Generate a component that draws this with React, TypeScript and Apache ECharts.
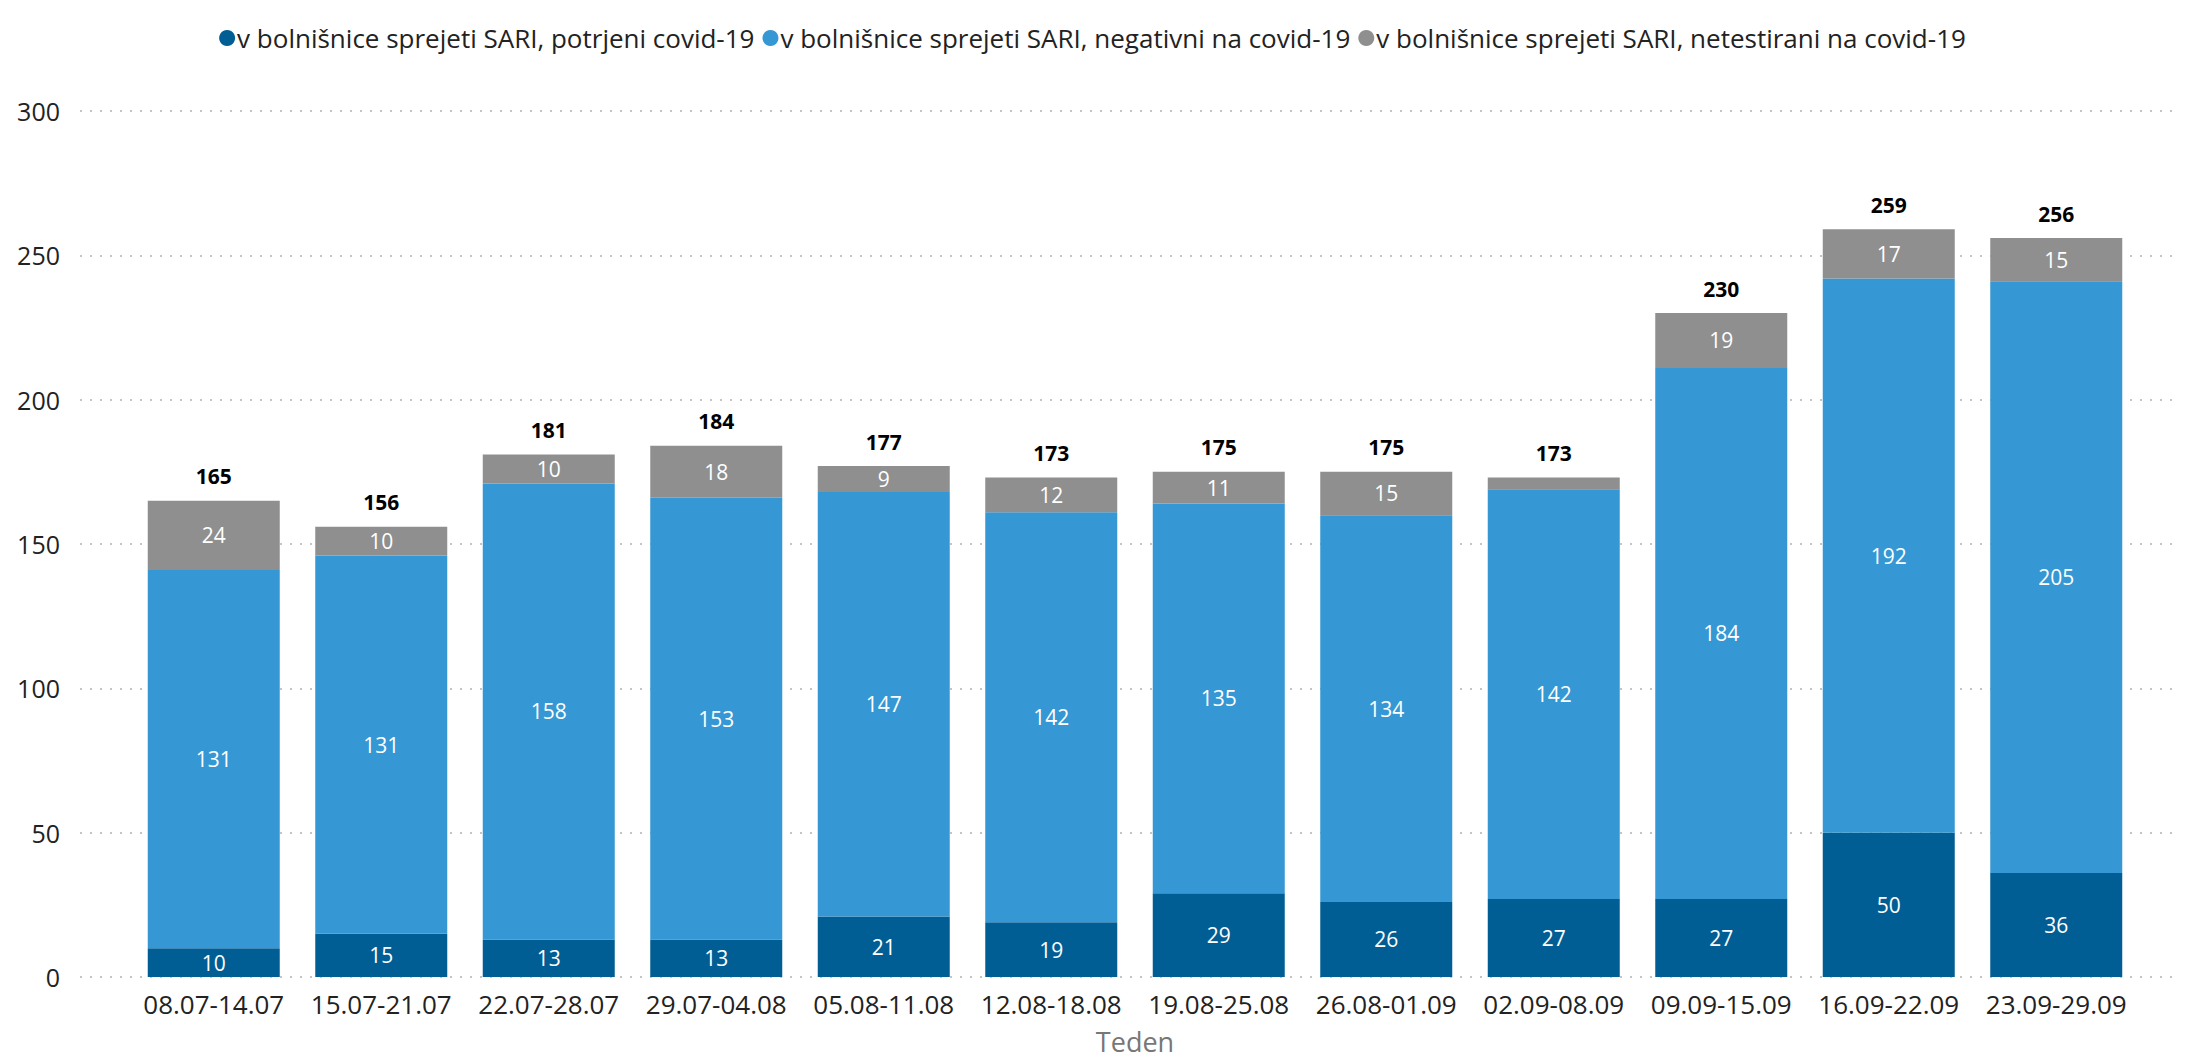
import React, { useEffect, useRef } from "react";
import * as echarts from "echarts";

const categories = [
  "08.07-14.07", "15.07-21.07", "22.07-28.07", "29.07-04.08", "05.08-11.08", "12.08-18.08",
  "19.08-25.08", "26.08-01.09", "02.09-08.09", "09.09-15.09", "16.09-22.09", "23.09-29.09",
];
const confirmed = [10, 15, 13, 13, 21, 19, 29, 26, 27, 27, 50, 36];
const negative = [131, 131, 158, 153, 147, 142, 135, 134, 142, 184, 192, 205];
const untested = [24, 10, 10, 18, 9, 12, 11, 15, 4, 19, 17, 15];
const totals = [165, 156, 181, 184, 177, 173, 175, 175, 173, 230, 259, 256];
const yTicks = { min: 0, max: 300, interval: 50 };
const seriesNames = [
  "v bolnišnice sprejeti SARI, potrjeni covid-19",
  "v bolnišnice sprejeti SARI, negativni na covid-19",
  "v bolnišnice sprejeti SARI, netestirani na covid-19",
];
const colors = ["#015e94", "#3597d3", "#8f8f8f"];

const FONT = "'Open Sans', 'Noto Sans', sans-serif";

export default function App() {
  const ref = useRef<HTMLDivElement>(null);
  useEffect(() => {
    document.body.style.margin = "0";
    document.body.style.overflow = "hidden";
    const chart = echarts.init(ref.current!, null, { renderer: "svg" });
    const insideLabel = {
      show: true,
      position: "inside",
      color: "#ffffff",
      fontSize: 21,
      fontFamily: FONT,
      formatter: (p: any) => (p.value < 5 ? "" : String(p.value)),
    };
    const stacked = [confirmed, negative, untested].map((d, i) => ({
      name: seriesNames[i],
      type: "bar",
      stack: "total",
      xAxisIndex: 0,
      yAxisIndex: 0,
      data: d,
      barWidth: 132,
      itemStyle: { color: colors[i] },
      label: insideLabel,
    }));
    chart.setOption({
      animation: false,
      backgroundColor: "#ffffff",
      textStyle: { fontFamily: FONT },
      legend: {
        data: seriesNames,
        top: 20,
        left: "center",
        icon: "circle",
        itemWidth: 16,
        itemHeight: 16,
        itemGap: 8,
        textStyle: { fontSize: 26, color: "#222222", fontFamily: FONT, padding: [0, 0, 0, -3] },
      },
      grid: [
        { left: 130, right: 45, top: 111, bottom: 84, outerBoundsMode: "none", containLabel: false },
        { left: 80, right: 5, top: 111, bottom: 84, outerBoundsMode: "none", containLabel: false },
      ],
      xAxis: [
        {
          type: "category",
          gridIndex: 0,
          data: categories,
          axisLine: { show: false },
          axisTick: { show: false },
          axisLabel: { fontSize: 26, color: "#222222", fontFamily: FONT, margin: 14, interval: 0 },
          name: "Teden",
          nameLocation: "middle",
          nameGap: 64,
          nameTextStyle: {
            fontSize: 27,
            lineHeight: 26,
            verticalAlign: "middle",
            color: "#777777",
            fontFamily: FONT,
          },
        },
        { type: "value", gridIndex: 1, show: false, min: 0, max: 1 },
      ],
      yAxis: [
        { type: "value", gridIndex: 0, show: false, ...yTicks },
        {
          type: "value",
          gridIndex: 1,
          ...yTicks,
          axisLine: { show: false },
          axisTick: { show: false },
          axisLabel: { fontSize: 25, color: "#222222", fontFamily: FONT, margin: 20 },
          splitLine: { show: true, lineStyle: { color: "#c4c4c4", width: 2, type: [2, 8] } },
        },
      ],
      series: [
        ...stacked,
        {
          name: "total",
          type: "bar",
          xAxisIndex: 0,
          yAxisIndex: 0,
          data: totals,
          barWidth: 132,
          barGap: "-100%",
          z: 1,
          silent: true,
          itemStyle: { color: "rgba(0,0,0,0)" },
          label: {
            show: true,
            position: "top",
            distance: 14,
            color: "#000000",
            fontSize: 21,
            fontWeight: "bold",
            fontFamily: FONT,
          },
        },
      ],
    });
    return () => chart.dispose();
  }, []);
  return <div ref={ref} style={{ width: 2185, height: 1061 }} />;
}
